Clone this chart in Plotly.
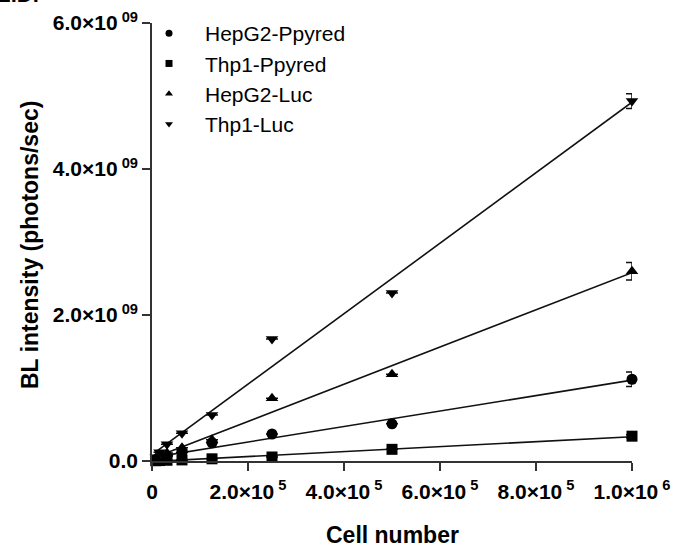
import numpy as np
import plotly.graph_objects as go

cells = [1.0e6, 5.0e5, 2.5e5, 1.25e5, 6.25e4, 3.125e4, 1.5625e4, 7.8125e3]

series_names = ["HepG2-Ppyred", "Thp1-Ppyred", "HepG2-Luc", "Thp1-Luc"]
hepg2_ppyred = [1.12e9, 0.51e9, 0.37e9, 0.25e9, 0.12e9, 0.07e9, 0.04e9, 0.02e9]
thp1_ppyred = [0.34e9, 0.16e9, 0.055e9, 0.03e9, 0.015e9, 0.01e9, 0.006e9, 0.004e9]
hepg2_luc = [2.60e9, 1.19e9, 0.86e9, 0.29e9, 0.18e9, 0.11e9, 0.07e9, 0.04e9]
thp1_luc = [4.93e9, 2.30e9, 1.67e9, 0.63e9, 0.38e9, 0.23e9, 0.12e9, 0.05e9]
err_hepg2_ppyred = [0.10e9, 0, 0, 0, 0, 0, 0, 0]
err_thp1_ppyred = [0.02e9, 0, 0, 0, 0, 0, 0, 0]
err_hepg2_luc = [0.12e9, 0, 0, 0, 0, 0, 0, 0]
err_thp1_luc = [0.10e9, 0, 0, 0, 0, 0, 0, 0]

values = [hepg2_ppyred, thp1_ppyred, hepg2_luc, thp1_luc]
errors = [err_hepg2_ppyred, err_thp1_ppyred, err_hepg2_luc, err_thp1_luc]
symbols = ["circle", "square", "triangle-up", "triangle-down"]

x_ticks = [0, 2e5, 4e5, 6e5, 8e5, 1e6]
x_ticktext = ["<b>0</b>", "<b>2.0×10<sup> 5</sup></b>", "<b>4.0×10<sup> 5</sup></b>",
              "<b>6.0×10<sup> 5</sup></b>", "<b>8.0×10<sup> 5</sup></b>", "<b>1.0×10<sup> 6</sup></b>"]
y_ticks = [0, 2e9, 4e9, 6e9]
y_ticktext = ["<b>0.0</b>", "<b>2.0×10<sup> 09</sup></b>", "<b>4.0×10<sup> 09</sup></b>",
              "<b>6.0×10<sup> 09</sup></b>"]
x_title = "Cell number"
y_title = "BL intensity (photons/sec)"
panel_label = "E.D."

FONT = "Liberation Sans, Arial"

fig = go.Figure()
xs = np.array(cells)
for name, v, e, s in zip(series_names, values, errors, symbols):
    slope, icpt = np.polyfit(xs, np.array(v), 1)
    xl = np.array([xs.min(), xs.max()])
    fig.add_trace(go.Scatter(x=xl, y=slope * xl + icpt, mode="lines",
                             line=dict(color="#111", width=1.6),
                             showlegend=False, hoverinfo="skip", cliponaxis=False))
    fig.add_trace(go.Scatter(x=cells, y=v, mode="markers", name=name,
                             showlegend=False,
                             marker=dict(symbol=s, size=11, color="black"),
                             error_y=dict(type="data", array=e, visible=True,
                                          color="#111", thickness=1.5, width=6),
                             cliponaxis=False))
# legend-only entries with small symbols
for name, s in zip(series_names, symbols):
    fig.add_trace(go.Scatter(x=[None], y=[None], mode="markers", name=name,
                             legendgroup=name,
                             marker=dict(symbol=s, size=7, color="black")))

axis_common = dict(showline=True, linecolor="#333", linewidth=1.6, ticks="outside",
                   ticklen=8, tickwidth=1.6, tickcolor="#333", showgrid=False,
                   zeroline=False, automargin=False)

fig.update_layout(
    width=677, height=554,
    margin=dict(l=152, r=45, t=23, b=93, autoexpand=False),
    plot_bgcolor="white", paper_bgcolor="white",
    xaxis=dict(range=[0, 1e6], tickvals=x_ticks, ticktext=x_ticktext,
               tickfont=dict(family=FONT, size=21, color="black"), ticklabelstandoff=3,
               **axis_common),
    yaxis=dict(range=[0, 6e9], tickvals=y_ticks, ticktext=y_ticktext,
               tickfont=dict(family=FONT, size=21, color="black"),
               **axis_common),
    legend=dict(x=133 / 677, y=1 - 13 / 554, xref="container", yref="container",
                xanchor="left", yanchor="top", bgcolor="rgba(0,0,0,0)",
                font=dict(family=FONT, size=21, color="black"),
                tracegroupgap=0, itemwidth=62),
    showlegend=True,
)
fig.add_shape(type="line", xref="paper", yref="paper", x0=0, x1=0, y0=0, y1=-8 / 438,
              line=dict(color="#333", width=1.6))
fig.add_annotation(text="<b>" + x_title + "</b>", xref="paper", yref="paper",
                   x=0.5, y=-(535 - 461) / 438, xanchor="center", yanchor="middle",
                   showarrow=False, font=dict(family=FONT, size=23, color="black"))
fig.add_annotation(text="<b>" + y_title + "</b>", xref="paper", yref="paper",
                   x=-(152 - 30) / 480, y=(461 - 245) / 438, xanchor="center", yanchor="middle",
                   textangle=-90, showarrow=False, font=dict(family=FONT, size=23, color="black"))
fig.add_annotation(text="<b>" + panel_label + "</b>", xref="paper", yref="paper", x=-0.33, y=1.066,
                   xanchor="left", yanchor="middle", showarrow=False,
                   font=dict(family=FONT, size=22, color="black"))

fig.write_html("out.html")
